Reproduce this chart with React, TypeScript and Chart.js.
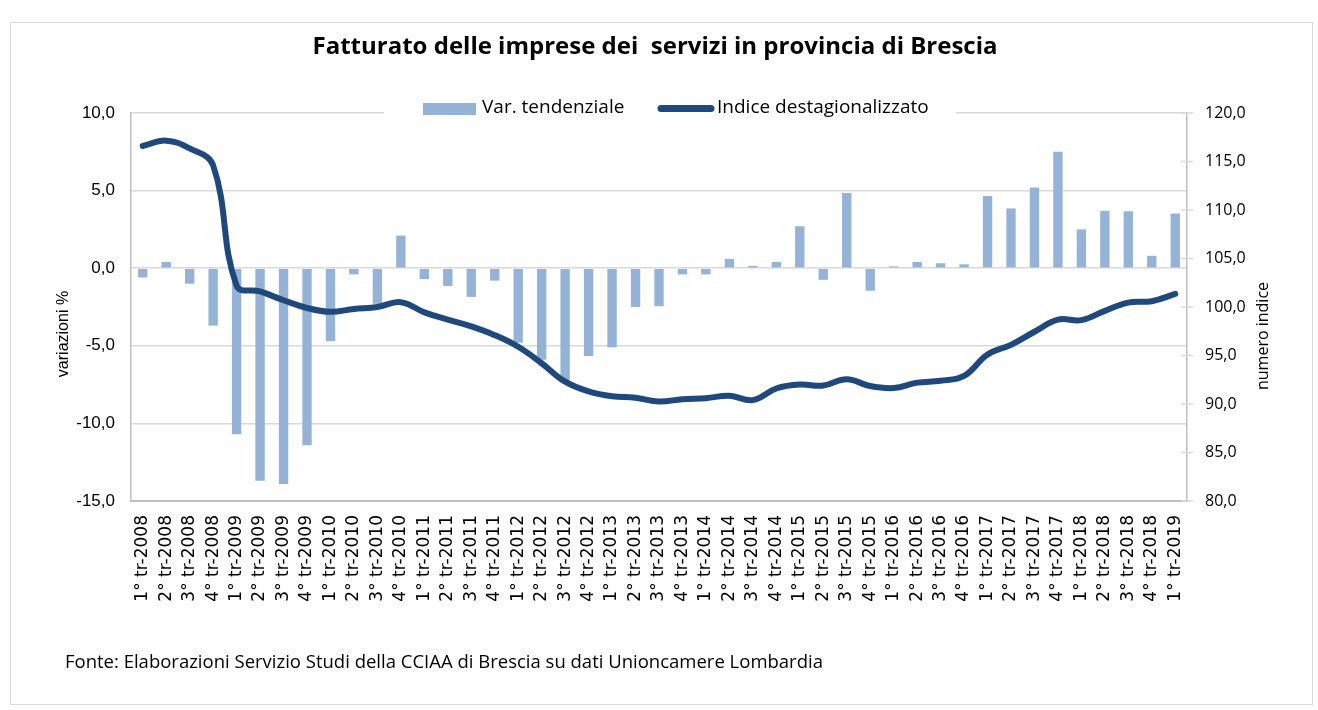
import React, { useEffect, useRef } from "react";
import { Chart, registerables } from "chart.js";

Chart.register(...registerables);

const categories = [
  "1° tr-2008", "2° tr-2008", "3° tr-2008", "4° tr-2008",
  "1° tr-2009", "2° tr-2009", "3° tr-2009", "4° tr-2009",
  "1° tr-2010", "2° tr-2010", "3° tr-2010", "4° tr-2010",
  "1° tr-2011", "2° tr-2011", "3° tr-2011", "4° tr-2011",
  "1° tr-2012", "2° tr-2012", "3° tr-2012", "4° tr-2012",
  "1° tr-2013", "2° tr-2013", "3° tr-2013", "4° tr-2013",
  "1° tr-2014", "2° tr-2014", "3° tr-2014", "4° tr-2014",
  "1° tr-2015", "2° tr-2015", "3° tr-2015", "4° tr-2015",
  "1° tr-2016", "2° tr-2016", "3° tr-2016", "4° tr-2016",
  "1° tr-2017", "2° tr-2017", "3° tr-2017", "4° tr-2017",
  "1° tr-2018", "2° tr-2018", "3° tr-2018", "4° tr-2018",
  "1° tr-2019",
];

const varTendenziale = [
  -0.6, 0.4, -1.0, -3.7,
  -10.7, -13.7, -13.9, -11.4,
  -4.7, -0.4, -2.3, 2.1,
  -0.7, -1.15, -1.85, -0.8,
  -4.8, -5.9, -7.3, -5.65,
  -5.1, -2.5, -2.45, -0.4,
  -0.4, 0.6, 0.15, 0.4,
  2.7, -0.75, 4.85, -1.45,
  0.12, 0.4, 0.32, 0.25,
  4.65, 3.85, 5.2, 7.5,
  2.5, 3.7, 3.67, 0.8,
  3.52,
];

const indiceDestagionalizzato = [
  116.6, 117.15, 116.35, 114.6,
  102.2, 101.6, 100.7, 99.9,
  99.5, 99.8, 100.0, 100.5,
  99.45, 98.7, 98.0, 97.1,
  95.9, 94.2, 92.3, 91.3,
  90.8, 90.65, 90.25, 90.5,
  90.6, 90.85, 90.4, 91.6,
  92.0, 91.9, 92.55, 91.85,
  91.65, 92.2, 92.4, 92.9,
  95.1, 96.1, 97.45, 98.7,
  98.65, 99.6, 100.45, 100.6,
  101.35,
];

const leftAxisRange = [-15, 10];
const rightAxisRange = [80, 120];
const tickStep = [5, 5];

const titleText = "Fatturato delle imprese dei  servizi in provincia di Brescia";
const legendLabels = ["Var. tendenziale", "Indice destagionalizzato"];
const leftAxisTitle = "variazioni %";
const rightAxisTitle = "numero indice";
const footnote = "Fonte: Elaborazioni Servizio Studi della CCIAA di Brescia su dati Unioncamere Lombardia";

const BAR_COLOR = "#95B3D7";
const LINE_COLOR = "#1F497D";
const GRID_COLOR = "#d9d9d9";
const AXIS_COLOR = "#bfbfbf";

const fmt = (v: number) => Number(v).toFixed(1).replace(".", ",");

const decorPlugin = {
  id: "decor",
  afterDraw(chart: any) {
    const ctx = chart.ctx as CanvasRenderingContext2D;
    ctx.save();

    // outer frame
    ctx.strokeStyle = GRID_COLOR;
    ctx.lineWidth = 1;
    ctx.strokeRect(10.5, 22.5, 1302, 682);

    // title
    ctx.fillStyle = "#000";
    ctx.font = "bold 24px 'Open Sans'";
    ctx.textAlign = "center";
    ctx.textBaseline = "middle";
    ctx.fillText(titleText, 655, 47);

    // legend (white box over the top gridline)
    ctx.fillStyle = "#fff";
    ctx.fillRect(384, 98, 572, 20);
    ctx.fillStyle = BAR_COLOR;
    ctx.fillRect(423, 103, 53, 12);
    ctx.fillStyle = "#000";
    ctx.font = "19px 'Open Sans'";
    ctx.textAlign = "left";
    ctx.textBaseline = "middle";
    ctx.fillText(legendLabels[0], 482, 108);
    ctx.strokeStyle = LINE_COLOR;
    ctx.lineWidth = 7;
    ctx.lineCap = "round";
    ctx.beginPath();
    ctx.moveTo(661, 108.5);
    ctx.lineTo(711, 108.5);
    ctx.stroke();
    ctx.fillText(legendLabels[1], 717, 108);

    // axis titles
    ctx.save();
    ctx.translate(64, 334);
    ctx.rotate(-Math.PI / 2);
    ctx.font = "16px 'Liberation Sans'";
    ctx.textAlign = "center";
    ctx.fillText(leftAxisTitle, 0, 0);
    ctx.restore();

    ctx.save();
    ctx.translate(1263, 336);
    ctx.rotate(-Math.PI / 2);
    ctx.font = "16px 'Open Sans'";
    ctx.textAlign = "center";
    ctx.fillText(rightAxisTitle, 0, 0);
    ctx.restore();

    // right axis crossing tick marks
    const y1 = chart.scales.y1;
    ctx.strokeStyle = GRID_COLOR;
    ctx.lineWidth = 1.5;
    ctx.lineCap = "butt";
    for (const t of y1.ticks) {
      const py = y1.getPixelForValue(t.value);
      ctx.beginPath();
      ctx.moveTo(y1.left - 6, py);
      ctx.lineTo(y1.left + 6, py);
      ctx.stroke();
    }

    // footnote
    ctx.fillStyle = "#000";
    ctx.font = "18.5px 'Open Sans'";
    ctx.textAlign = "left";
    ctx.textBaseline = "middle";
    ctx.fillText(footnote, 65, 663);

    ctx.restore();
  },
};

export default function App() {
  const ref = useRef<HTMLCanvasElement | null>(null);

  useEffect(() => {
    if (!ref.current) return;
    const chart = new Chart(ref.current, {
      type: "bar",
      data: {
        labels: categories,
        datasets: [
          {
            type: "line",
            label: legendLabels[1],
            data: indiceDestagionalizzato,
            yAxisID: "y1",
            borderColor: LINE_COLOR,
            backgroundColor: LINE_COLOR,
            borderWidth: 6,
            pointRadius: 0,
            tension: 0.4,
            borderCapStyle: "round",
            borderJoinStyle: "round",
            order: 0,
          } as any,
          {
            type: "bar",
            label: legendLabels[0],
            data: varTendenziale,
            yAxisID: "y",
            backgroundColor: BAR_COLOR,
            barPercentage: 0.4,
            categoryPercentage: 1.0,
            order: 1,
          } as any,
        ],
      },
      options: {
        responsive: false,
        animation: false,
        layout: { padding: { top: 113, left: 0, right: 0, bottom: 0 } },
        plugins: {
          legend: { display: false },
          title: { display: false },
          tooltip: { enabled: false },
        },
        scales: {
          x: {
            offset: true,
            grid: { display: false, drawTicks: false },
            border: { display: true, color: AXIS_COLOR, width: 2 },
            ticks: {
              autoSkip: false,
              maxRotation: 90,
              minRotation: 90,
              padding: 14,
              color: "#000",
              font: { family: "DejaVu Sans", size: 17 },
            },
            afterFit: (s: any) => {
              s.height = 209;
            },
          },
          y: {
            position: "left",
            min: leftAxisRange[0],
            max: leftAxisRange[1],
            ticks: {
              stepSize: tickStep[0],
              padding: 16,
              color: "#000",
              font: { family: "Liberation Sans", size: 17 },
              callback: (v: any) => fmt(v),
            },
            grid: { color: GRID_COLOR, lineWidth: 1.5, drawTicks: false },
            border: { color: AXIS_COLOR, width: 1.5 },
            afterFit: (s: any) => {
              s.width = 131;
            },
          },
          y1: {
            position: "right",
            min: rightAxisRange[0],
            max: rightAxisRange[1],
            ticks: {
              stepSize: tickStep[1],
              padding: 18,
              color: "#000",
              font: { family: "Open Sans", size: 16 },
              callback: (v: any) => fmt(v),
            },
            grid: { drawOnChartArea: false, drawTicks: false },
            border: { color: AXIS_COLOR, width: 1.5 },
            afterFit: (s: any) => {
              s.width = 131;
            },
          },
        },
      } as any,
      plugins: [decorPlugin],
    });
    return () => chart.destroy();
  }, []);

  return (
    <div style={{ position: "absolute", left: 0, top: 0, width: 1318, height: 710, background: "#fff" }}>
      <canvas ref={ref} width={1318} height={710} style={{ display: "block" }} />
    </div>
  );
}
